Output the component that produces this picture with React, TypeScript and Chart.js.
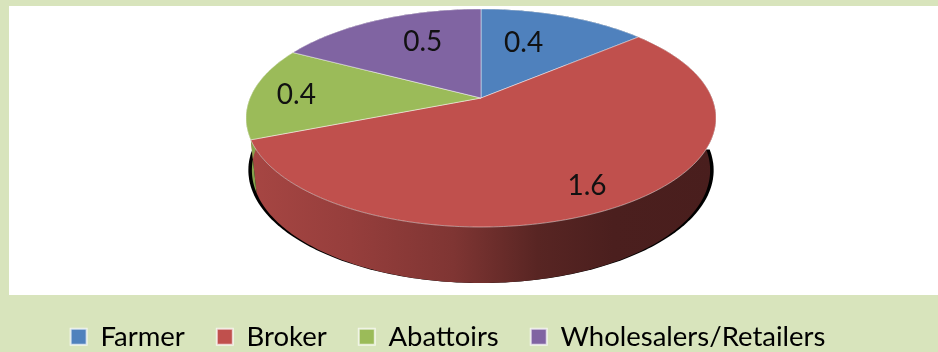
import React, { useEffect, useRef } from "react";
import { Chart, registerables } from "chart.js";

Chart.register(...registerables);

const categories = ["Farmer", "Broker", "Abattoirs", "Wholesalers/Retailers"];
const shares = [0.4, 1.6, 0.4, 0.5];
const sliceColors = ["#4f81bd", "#c0504d", "#9bbb59", "#8064a2"];

const PAGE_COLOR = "#d8e4bc";
const WIDTH = 938;
const HEIGHT = 352;

// Tilted disc: a unit circle through a projective transform, so the hub sits above the ellipse centre.
const HUB_X = 481;
const HUB_Y = 98;
const SPREAD_X = 231;
const SPREAD_Y = 87.35;
const TILT = -0.1835;
const WALL_DEPTH = 56;

// Where each value label sits: fraction of the radius, then a small screen nudge.
const labelRadius = [0.45, 0.8, 0.82, 0.5];
const labelNudgeX = [2, -3, 3, -3];
const labelNudgeY = [-15, 5, 2, -14];

type Pt = { x: number; y: number };

const project = (u: number, v: number): Pt => {
  const w = 1 + TILT * v;
  return { x: HUB_X + (SPREAD_X * u) / w, y: (SPREAD_Y * v + HUB_Y) / w };
};

const rim = (angle: number): Pt => project(Math.cos(angle), Math.sin(angle));

// Lower edge of the side wall, narrowing slightly with distance below the top face.
const lowerRim = (angle: number, widthScale: number): Pt => {
  const p = rim(angle);
  return {
    x: HUB_X + (p.x - HUB_X) * widthScale,
    y: p.y + WALL_DEPTH * (0.92 + (0.08 * (p.y - HUB_Y)) / 129),
  };
};

const sweep = (start: number, end: number): number[] => {
  const steps = Math.max(2, Math.ceil(((end - start) * 180) / Math.PI));
  const out: number[] = [];
  for (let i = 0; i <= steps; i++) out.push(start + ((end - start) * i) / steps);
  return out;
};

const shade = (hex: string, f: number): string => {
  const n = parseInt(hex.slice(1), 16);
  const c = [(n >> 16) & 255, (n >> 8) & 255, n & 255].map((v) => Math.round(v * f));
  return `rgb(${c[0]},${c[1]},${c[2]})`;
};

const tracePath = (ctx: CanvasRenderingContext2D, pts: Pt[]) => {
  ctx.beginPath();
  pts.forEach((p, i) => (i ? ctx.lineTo(p.x, p.y) : ctx.moveTo(p.x, p.y)));
  ctx.closePath();
};

const panelPlugin = {
  id: "panel",
  beforeDraw(chart: any) {
    const { ctx } = chart;
    ctx.save();
    ctx.fillStyle = PAGE_COLOR;
    ctx.fillRect(0, 0, WIDTH, HEIGHT);
    ctx.fillStyle = "#ffffff";
    ctx.fillRect(9, 6, WIDTH - 9, 289);
    ctx.restore();
  },
};

// Moves the legend row down to the foot of the page once layout is done.
const legendFootPlugin = {
  id: "legendFoot",
  afterLayout(chart: any) {
    const legend = chart.legend;
    const shift = 323 - (legend.top + legend.options.labels.padding);
    legend.top += shift;
    legend.bottom += shift;
  },
};

// Paints the arcs computed by the doughnut controller as a solid tilted disc.
const discPlugin = {
  id: "disc",
  beforeDatasetsDraw(chart: any) {
    const { ctx } = chart;
    const arcs = chart.getDatasetMeta(0).data;
    ctx.save();

    // Contact shadow peeking out beside the wall.
    tracePath(ctx, sweep(0, Math.PI).map((a) => lowerRim(a, 0.99)));
    ctx.fillStyle = "#000000";
    ctx.fill();

    // Side wall, lit from the left.
    arcs.forEach((arc: any) => {
      const base = arc.options.backgroundColor;
      const angles = sweep(arc.startAngle, arc.endAngle);
      const grad = ctx.createLinearGradient(247, 0, 716, 0);
      grad.addColorStop(0, shade(base, 0.87));
      grad.addColorStop(0.22, shade(base, 0.78));
      grad.addColorStop(0.44, shade(base, 0.66));
      grad.addColorStop(0.62, shade(base, 0.46));
      grad.addColorStop(0.78, shade(base, 0.39));
      grad.addColorStop(1, shade(base, 0.38));
      const outline = [
        ...angles.map(rim),
        ...angles.slice().reverse().map((a) => lowerRim(a, 0.975)),
      ];
      tracePath(ctx, outline);
      ctx.fillStyle = grad;
      ctx.fill();
    });

    // Top face of each slice.
    arcs.forEach((arc: any) => {
      const pts = [project(0, 0), ...sweep(arc.startAngle, arc.endAngle).map(rim)];
      tracePath(ctx, pts);
      ctx.fillStyle = arc.options.backgroundColor;
      ctx.fill();
      ctx.strokeStyle = "rgba(255,255,255,0.45)";
      ctx.lineWidth = 1;
      ctx.stroke();
    });

    // Value labels.
    ctx.fillStyle = "#111111";
    ctx.font = "28px Lato";
    ctx.textAlign = "center";
    ctx.textBaseline = "middle";
    arcs.forEach((arc: any, i: number) => {
      const mid = (arc.startAngle + arc.endAngle) / 2;
      const p = project(labelRadius[i] * Math.cos(mid), labelRadius[i] * Math.sin(mid));
      ctx.fillText(String(shares[i]), p.x + labelNudgeX[i], p.y + labelNudgeY[i]);
    });

    ctx.restore();
    return false;
  },
};

export default function App() {
  const canvasRef = useRef<HTMLCanvasElement | null>(null);

  useEffect(() => {
    if (!canvasRef.current) return;
    const chart = new Chart(canvasRef.current, {
      type: "pie",
      data: {
        labels: categories,
        datasets: [{ data: shares, backgroundColor: sliceColors }],
      },
      options: {
        animation: false,
        responsive: false,
        layout: { padding: { right: 42 } },
        plugins: {
          tooltip: { enabled: false },
          legend: {
            position: "bottom",
            labels: {
              boxWidth: 16,
              boxHeight: 16,
              padding: 32,
              color: "#111111",
              font: { family: "Lato", size: 27.5 },
              generateLabels: (c: any) =>
                categories.map((text, i) => ({
                  text,
                  fillStyle: sliceColors[i],
                  strokeStyle: "rgba(255,255,255,0.7)",
                  lineWidth: 2,
                  index: i,
                })),
            },
          },
        },
      },
      plugins: [panelPlugin, legendFootPlugin, discPlugin],
    } as any);
    return () => chart.destroy();
  }, []);

  return (
    <div style={{ position: "fixed", left: 0, top: 0, width: WIDTH, height: HEIGHT }}>
      <canvas ref={canvasRef} width={WIDTH} height={HEIGHT} style={{ display: "block" }} />
    </div>
  );
}
